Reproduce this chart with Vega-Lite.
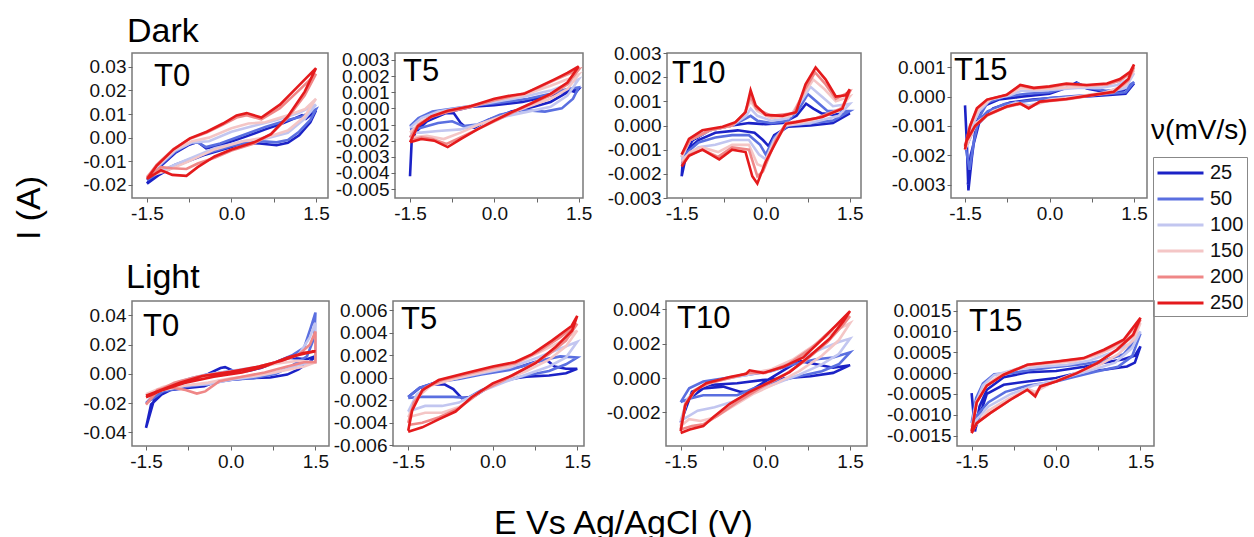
{
"$schema":"https://vega.github.io/schema/vega-lite/v6.json",
"background":"white",
"padding":{"left":12,"top":15,"right":6,"bottom":0},
"autosize":{"type":"pad"},
"datasets":{
"D0":[
{"r":25,"x":-1.5,"y":-0.0195},{"r":25,"x":-1.3,"y":-0.013},{"r":25,"x":-1.0,"y":-0.0065},{"r":25,"x":-0.75,"y":-0.003},{"r":25,"x":-0.6,"y":-0.0018},{"r":25,"x":-0.45,"y":-0.0045},{"r":25,"x":-0.2,"y":-0.0032},{"r":25,"x":0.2,"y":0.0},{"r":25,"x":0.6,"y":0.0035},{"r":25,"x":0.9,"y":0.006},{"r":25,"x":1.15,"y":0.0085},{"r":25,"x":1.25,"y":0.0095},{"r":25,"x":1.32,"y":0.008},{"r":25,"x":1.5,"y":0.0115},{"r":25,"x":1.4,"y":0.0065},{"r":25,"x":1.2,"y":0.001},{"r":25,"x":1.0,"y":-0.0022},{"r":25,"x":0.8,"y":-0.0032},{"r":25,"x":0.5,"y":-0.0025},{"r":25,"x":0.2,"y":-0.0022},{"r":25,"x":0.0,"y":-0.004},{"r":25,"x":-0.5,"y":-0.0075},{"r":25,"x":-1.0,"y":-0.012},{"r":25,"x":-1.3,"y":-0.016},{"r":25,"x":-1.5,"y":-0.0195},
{"r":50,"x":-1.5,"y":-0.018},{"r":50,"x":-1.3,"y":-0.0125},{"r":50,"x":-1.0,"y":-0.006},{"r":50,"x":-0.75,"y":-0.0025},{"r":50,"x":-0.6,"y":-0.002},{"r":50,"x":-0.45,"y":-0.004},{"r":50,"x":-0.2,"y":-0.0025},{"r":50,"x":0.2,"y":0.001},{"r":50,"x":0.6,"y":0.0045},{"r":50,"x":1.0,"y":0.0075},{"r":50,"x":1.25,"y":0.009},{"r":50,"x":1.5,"y":0.012},{"r":50,"x":1.4,"y":0.0075},{"r":50,"x":1.2,"y":0.0025},{"r":50,"x":1.0,"y":-0.001},{"r":50,"x":0.8,"y":-0.002},{"r":50,"x":0.5,"y":-0.0015},{"r":50,"x":0.0,"y":-0.0035},{"r":50,"x":-0.5,"y":-0.007},{"r":50,"x":-1.0,"y":-0.0115},{"r":50,"x":-1.3,"y":-0.015},{"r":50,"x":-1.5,"y":-0.018},
{"r":100,"x":-1.5,"y":-0.017},{"r":100,"x":-1.3,"y":-0.012},{"r":100,"x":-1.0,"y":-0.0055},{"r":100,"x":-0.7,"y":-0.002},{"r":100,"x":-0.4,"y":-0.0015},{"r":100,"x":0.0,"y":0.0025},{"r":100,"x":0.4,"y":0.005},{"r":100,"x":0.8,"y":0.0075},{"r":100,"x":1.2,"y":0.0105},{"r":100,"x":1.5,"y":0.014},{"r":100,"x":1.3,"y":0.008},{"r":100,"x":1.0,"y":0.002},{"r":100,"x":0.6,"y":-0.0005},{"r":100,"x":0.2,"y":-0.0015},{"r":100,"x":-0.3,"y":-0.0045},{"r":100,"x":-0.8,"y":-0.0095},{"r":100,"x":-1.2,"y":-0.0135},{"r":100,"x":-1.5,"y":-0.017},
{"r":150,"x":-1.5,"y":-0.0165},{"r":150,"x":-1.3,"y":-0.0115},{"r":150,"x":-1.0,"y":-0.005},{"r":150,"x":-0.7,"y":-0.0015},{"r":150,"x":-0.4,"y":0.0},{"r":150,"x":0.0,"y":0.004},{"r":150,"x":0.3,"y":0.006},{"r":150,"x":0.6,"y":0.0065},{"r":150,"x":1.0,"y":0.0095},{"r":150,"x":1.3,"y":0.012},{"r":150,"x":1.5,"y":0.0165},{"r":150,"x":1.3,"y":0.009},{"r":150,"x":1.0,"y":0.003},{"r":150,"x":0.6,"y":0.0},{"r":150,"x":0.2,"y":-0.0015},{"r":150,"x":-0.3,"y":-0.005},{"r":150,"x":-0.8,"y":-0.0105},{"r":150,"x":-1.2,"y":-0.0145},{"r":150,"x":-1.5,"y":-0.0165},
{"r":200,"x":-1.5,"y":-0.017},{"r":200,"x":-1.33,"y":-0.0115},{"r":200,"x":-1.03,"y":-0.0048},{"r":200,"x":-0.74,"y":-0.0005},{"r":200,"x":-0.44,"y":0.0022},{"r":200,"x":-0.15,"y":0.0055},{"r":200,"x":0.09,"y":0.0085},{"r":200,"x":0.27,"y":0.0095},{"r":200,"x":0.53,"y":0.0078},{"r":200,"x":0.86,"y":0.0125},{"r":200,"x":1.15,"y":0.019},{"r":200,"x":1.5,"y":0.027},{"r":200,"x":1.3,"y":0.018},{"r":200,"x":1.0,"y":0.0085},{"r":200,"x":0.7,"y":0.0015},{"r":200,"x":0.4,"y":-0.0025},{"r":200,"x":0.0,"y":-0.0055},{"r":200,"x":-0.3,"y":-0.0085},{"r":200,"x":-0.6,"y":-0.011},{"r":200,"x":-0.8,"y":-0.0133},{"r":200,"x":-1.05,"y":-0.013},{"r":200,"x":-1.25,"y":-0.0125},{"r":200,"x":-1.5,"y":-0.017},
{"r":250,"x":-1.5,"y":-0.0175},{"r":250,"x":-1.33,"y":-0.012},{"r":250,"x":-1.03,"y":-0.005},{"r":250,"x":-0.74,"y":-0.0003},{"r":250,"x":-0.44,"y":0.0025},{"r":250,"x":-0.15,"y":0.006},{"r":250,"x":0.09,"y":0.0094},{"r":250,"x":0.27,"y":0.0104},{"r":250,"x":0.53,"y":0.0085},{"r":250,"x":0.86,"y":0.014},{"r":250,"x":1.15,"y":0.021},{"r":250,"x":1.5,"y":0.0295},{"r":250,"x":1.3,"y":0.0195},{"r":250,"x":1.0,"y":0.009},{"r":250,"x":0.7,"y":0.0015},{"r":250,"x":0.4,"y":-0.002},{"r":250,"x":0.0,"y":-0.005},{"r":250,"x":-0.3,"y":-0.008},{"r":250,"x":-0.6,"y":-0.0125},{"r":250,"x":-0.8,"y":-0.0162},{"r":250,"x":-1.05,"y":-0.0158},{"r":250,"x":-1.25,"y":-0.0138},{"r":250,"x":-1.5,"y":-0.0175}
],
"D5":[
{"r":25,"x":-1.5,"y":-0.0042},{"r":25,"x":-1.47,"y":-0.002},{"r":25,"x":-1.35,"y":-0.0011},{"r":25,"x":-1.15,"y":-0.0005},{"r":25,"x":-0.9,"y":-0.0003},{"r":25,"x":-0.72,"y":-0.0003},{"r":25,"x":-0.6,"y":-0.0009},{"r":25,"x":-0.5,"y":-0.0012},{"r":25,"x":-0.35,"y":-0.0012},{"r":25,"x":-0.1,"y":-0.0007},{"r":25,"x":0.3,"y":-0.0002},{"r":25,"x":0.7,"y":0.0001},{"r":25,"x":1.0,"y":0.0004},{"r":25,"x":1.25,"y":0.0009},{"r":25,"x":1.35,"y":0.0011},{"r":25,"x":1.45,"y":0.001},{"r":25,"x":1.5,"y":0.0012},{"r":25,"x":1.3,"y":0.0011},{"r":25,"x":1.0,"y":0.0008},{"r":25,"x":0.5,"y":0.0004},{"r":25,"x":0.0,"y":0.0002},{"r":25,"x":-0.4,"y":0.0001},{"r":25,"x":-0.8,"y":-0.0002},{"r":25,"x":-1.2,"y":-0.0008},{"r":25,"x":-1.5,"y":-0.0018},
{"r":50,"x":-1.5,"y":-0.0011},{"r":50,"x":-1.35,"y":-0.0006},{"r":50,"x":-1.1,"y":-0.0002},{"r":50,"x":-0.7,"y":0.0},{"r":50,"x":-0.3,"y":0.0002},{"r":50,"x":0.2,"y":0.0004},{"r":50,"x":0.6,"y":0.0006},{"r":50,"x":1.0,"y":0.0009},{"r":50,"x":1.3,"y":0.0012},{"r":50,"x":1.5,"y":0.0013},{"r":50,"x":1.4,"y":0.0006},{"r":50,"x":1.2,"y":0.0},{"r":50,"x":0.9,"y":-0.0002},{"r":50,"x":0.5,"y":-0.0001},{"r":50,"x":0.1,"y":-0.0004},{"r":50,"x":-0.3,"y":-0.001},{"r":50,"x":-0.55,"y":-0.0011},{"r":50,"x":-0.75,"y":-0.0008},{"r":50,"x":-1.0,"y":-0.0009},{"r":50,"x":-1.3,"y":-0.0012},{"r":50,"x":-1.5,"y":-0.0013},
{"r":100,"x":-1.5,"y":-0.0012},{"r":100,"x":-1.3,"y":-0.0006},{"r":100,"x":-1.0,"y":-0.0002},{"r":100,"x":-0.5,"y":0.0001},{"r":100,"x":0.0,"y":0.0004},{"r":100,"x":0.5,"y":0.0007},{"r":100,"x":1.0,"y":0.0011},{"r":100,"x":1.3,"y":0.0015},{"r":100,"x":1.5,"y":0.0018},{"r":100,"x":1.3,"y":0.0008},{"r":100,"x":1.0,"y":0.0001},{"r":100,"x":0.6,"y":-0.0002},{"r":100,"x":0.2,"y":-0.0005},{"r":100,"x":-0.2,"y":-0.0009},{"r":100,"x":-0.6,"y":-0.0013},{"r":100,"x":-1.0,"y":-0.0014},{"r":100,"x":-1.3,"y":-0.0015},{"r":100,"x":-1.5,"y":-0.0015},
{"r":150,"x":-1.5,"y":-0.0015},{"r":150,"x":-1.3,"y":-0.0008},{"r":150,"x":-1.0,"y":-0.0003},{"r":150,"x":-0.5,"y":0.0001},{"r":150,"x":0.0,"y":0.0005},{"r":150,"x":0.5,"y":0.0008},{"r":150,"x":1.0,"y":0.0014},{"r":150,"x":1.3,"y":0.0018},{"r":150,"x":1.5,"y":0.0021},{"r":150,"x":1.3,"y":0.0012},{"r":150,"x":1.0,"y":0.0006},{"r":150,"x":0.6,"y":0.0001},{"r":150,"x":0.2,"y":-0.0004},{"r":150,"x":-0.2,"y":-0.0009},{"r":150,"x":-0.6,"y":-0.0015},{"r":150,"x":-0.9,"y":-0.0019},{"r":150,"x":-1.2,"y":-0.0017},{"r":150,"x":-1.5,"y":-0.0018},
{"r":200,"x":-1.5,"y":-0.0018},{"r":200,"x":-1.35,"y":-0.001},{"r":200,"x":-1.1,"y":-0.0005},{"r":200,"x":-0.8,"y":-0.0002},{"r":200,"x":-0.4,"y":0.0001},{"r":200,"x":0.0,"y":0.0005},{"r":200,"x":0.5,"y":0.0009},{"r":200,"x":0.8,"y":0.0013},{"r":200,"x":1.1,"y":0.0018},{"r":200,"x":1.5,"y":0.0024},{"r":200,"x":1.3,"y":0.0015},{"r":200,"x":1.0,"y":0.0008},{"r":200,"x":0.6,"y":0.0002},{"r":200,"x":0.3,"y":-0.0003},{"r":200,"x":0.0,"y":-0.0008},{"r":200,"x":-0.3,"y":-0.0013},{"r":200,"x":-0.6,"y":-0.0018},{"r":200,"x":-0.85,"y":-0.0022},{"r":200,"x":-1.1,"y":-0.0019},{"r":200,"x":-1.3,"y":-0.0018},{"r":200,"x":-1.5,"y":-0.002},
{"r":250,"x":-1.5,"y":-0.0021},{"r":250,"x":-1.36,"y":-0.0011},{"r":250,"x":-1.12,"y":-0.0005},{"r":250,"x":-0.83,"y":-0.00015},{"r":250,"x":-0.41,"y":0.00015},{"r":250,"x":0.0,"y":0.0006},{"r":250,"x":0.3,"y":0.0008},{"r":250,"x":0.53,"y":0.0009},{"r":250,"x":0.77,"y":0.0013},{"r":250,"x":1.07,"y":0.0018},{"r":250,"x":1.3,"y":0.0022},{"r":250,"x":1.5,"y":0.0026},{"r":250,"x":1.3,"y":0.0016},{"r":250,"x":1.0,"y":0.0009},{"r":250,"x":0.65,"y":0.0003},{"r":250,"x":0.3,"y":-0.00025},{"r":250,"x":0.0,"y":-0.00076},{"r":250,"x":-0.3,"y":-0.0013},{"r":250,"x":-0.6,"y":-0.0019},{"r":250,"x":-0.83,"y":-0.0024},{"r":250,"x":-1.07,"y":-0.002},{"r":250,"x":-1.3,"y":-0.0019},{"r":250,"x":-1.5,"y":-0.0021}
],
"D10":[
{"r":25,"x":-1.5,"y":-0.0021},{"r":25,"x":-1.47,"y":-0.0012},{"r":25,"x":-1.3,"y":-0.0006},{"r":25,"x":-1.0,"y":-0.0002},{"r":25,"x":-0.6,"y":0.0},{"r":25,"x":-0.3,"y":0.0001},{"r":25,"x":0.0,"y":0.00005},{"r":25,"x":0.3,"y":0.0001},{"r":25,"x":0.55,"y":0.0004},{"r":25,"x":0.72,"y":0.0009},{"r":25,"x":0.85,"y":0.0007},{"r":25,"x":1.0,"y":0.0005},{"r":25,"x":1.2,"y":0.00045},{"r":25,"x":1.5,"y":0.0005},{"r":25,"x":1.2,"y":0.0001},{"r":25,"x":0.8,"y":0.0},{"r":25,"x":0.4,"y":-0.00005},{"r":25,"x":0.15,"y":-0.0004},{"r":25,"x":0.05,"y":-0.00085},{"r":25,"x":-0.05,"y":-0.0006},{"r":25,"x":-0.2,"y":-0.0003},{"r":25,"x":-0.5,"y":-0.0002},{"r":25,"x":-0.9,"y":-0.0003},{"r":25,"x":-1.2,"y":-0.0006},{"r":25,"x":-1.4,"y":-0.001},{"r":25,"x":-1.5,"y":-0.0021},
{"r":50,"x":-1.5,"y":-0.0013},{"r":50,"x":-1.35,"y":-0.0006},{"r":50,"x":-1.0,"y":-0.0002},{"r":50,"x":-0.6,"y":0.0},{"r":50,"x":-0.35,"y":0.0003},{"r":50,"x":-0.27,"y":0.0004},{"r":50,"x":-0.15,"y":0.0002},{"r":50,"x":0.1,"y":0.0001},{"r":50,"x":0.4,"y":0.0002},{"r":50,"x":0.6,"y":0.0007},{"r":50,"x":0.75,"y":0.0013},{"r":50,"x":0.9,"y":0.001},{"r":50,"x":1.1,"y":0.0006},{"r":50,"x":1.5,"y":0.0006},{"r":50,"x":1.2,"y":0.0002},{"r":50,"x":0.8,"y":0.0001},{"r":50,"x":0.4,"y":0.0},{"r":50,"x":0.15,"y":-0.0005},{"r":50,"x":0.0,"y":-0.0012},{"r":50,"x":-0.1,"y":-0.0008},{"r":50,"x":-0.3,"y":-0.0004},{"r":50,"x":-0.6,"y":-0.0004},{"r":50,"x":-0.9,"y":-0.0005},{"r":50,"x":-1.2,"y":-0.0007},{"r":50,"x":-1.5,"y":-0.0013},
{"r":100,"x":-1.5,"y":-0.0013},{"r":100,"x":-1.35,"y":-0.0006},{"r":100,"x":-1.0,"y":-0.0002},{"r":100,"x":-0.6,"y":0.0},{"r":100,"x":-0.35,"y":0.0004},{"r":100,"x":-0.27,"y":0.0007},{"r":100,"x":-0.15,"y":0.0004},{"r":100,"x":0.1,"y":0.0002},{"r":100,"x":0.4,"y":0.0003},{"r":100,"x":0.6,"y":0.0009},{"r":100,"x":0.8,"y":0.0016},{"r":100,"x":1.0,"y":0.0012},{"r":100,"x":1.2,"y":0.0008},{"r":100,"x":1.5,"y":0.0009},{"r":100,"x":1.3,"y":0.0004},{"r":100,"x":0.8,"y":0.0001},{"r":100,"x":0.35,"y":0.0},{"r":100,"x":0.15,"y":-0.0006},{"r":100,"x":0.0,"y":-0.0014},{"r":100,"x":-0.12,"y":-0.0012},{"r":100,"x":-0.3,"y":-0.0006},{"r":100,"x":-0.6,"y":-0.0006},{"r":100,"x":-0.9,"y":-0.0008},{"r":100,"x":-1.2,"y":-0.0009},{"r":100,"x":-1.5,"y":-0.0014},
{"r":150,"x":-1.5,"y":-0.0013},{"r":150,"x":-1.35,"y":-0.0006},{"r":150,"x":-1.0,"y":-0.0002},{"r":150,"x":-0.6,"y":0.0},{"r":150,"x":-0.38,"y":0.0005},{"r":150,"x":-0.27,"y":0.001},{"r":150,"x":-0.15,"y":0.0006},{"r":150,"x":0.1,"y":0.0003},{"r":150,"x":0.45,"y":0.0004},{"r":150,"x":0.65,"y":0.0012},{"r":150,"x":0.85,"y":0.0019},{"r":150,"x":1.05,"y":0.0015},{"r":150,"x":1.25,"y":0.001},{"r":150,"x":1.5,"y":0.0012},{"r":150,"x":1.3,"y":0.0006},{"r":150,"x":0.8,"y":0.0002},{"r":150,"x":0.35,"y":0.0},{"r":150,"x":0.15,"y":-0.0007},{"r":150,"x":-0.05,"y":-0.0017},{"r":150,"x":-0.15,"y":-0.0016},{"r":150,"x":-0.3,"y":-0.0008},{"r":150,"x":-0.6,"y":-0.0008},{"r":150,"x":-0.85,"y":-0.0011},{"r":150,"x":-1.15,"y":-0.0009},{"r":150,"x":-1.35,"y":-0.0011},{"r":150,"x":-1.5,"y":-0.0015},
{"r":200,"x":-1.5,"y":-0.0012},{"r":200,"x":-1.35,"y":-0.0006},{"r":200,"x":-1.0,"y":-0.0002},{"r":200,"x":-0.6,"y":0.0},{"r":200,"x":-0.38,"y":0.0005},{"r":200,"x":-0.27,"y":0.0012},{"r":200,"x":-0.17,"y":0.0007},{"r":200,"x":0.1,"y":0.0004},{"r":200,"x":0.5,"y":0.0005},{"r":200,"x":0.7,"y":0.0015},{"r":200,"x":0.88,"y":0.0022},{"r":200,"x":1.07,"y":0.0017},{"r":200,"x":1.25,"y":0.0011},{"r":200,"x":1.5,"y":0.0014},{"r":200,"x":1.35,"y":0.0007},{"r":200,"x":0.9,"y":0.0003},{"r":200,"x":0.36,"y":0.0001},{"r":200,"x":0.18,"y":-0.0006},{"r":200,"x":-0.05,"y":-0.0019},{"r":200,"x":-0.15,"y":-0.0021},{"r":200,"x":-0.3,"y":-0.001},{"r":200,"x":-0.6,"y":-0.0009},{"r":200,"x":-0.85,"y":-0.0013},{"r":200,"x":-1.13,"y":-0.001},{"r":200,"x":-1.35,"y":-0.0012},{"r":200,"x":-1.5,"y":-0.0016},
{"r":250,"x":-1.5,"y":-0.0012},{"r":250,"x":-1.37,"y":-0.00055},{"r":250,"x":-1.13,"y":-0.0002},{"r":250,"x":-0.77,"y":-0.00005},{"r":250,"x":-0.54,"y":0.00014},{"r":250,"x":-0.36,"y":0.00055},{"r":250,"x":-0.27,"y":0.00146},{"r":250,"x":-0.18,"y":0.00083},{"r":250,"x":0.0,"y":0.00044},{"r":250,"x":0.3,"y":0.0004},{"r":250,"x":0.54,"y":0.00055},{"r":250,"x":0.71,"y":0.0017},{"r":250,"x":0.89,"y":0.0024},{"r":250,"x":1.07,"y":0.0019},{"r":250,"x":1.25,"y":0.0012},{"r":250,"x":1.43,"y":0.00125},{"r":250,"x":1.5,"y":0.0015},{"r":250,"x":1.37,"y":0.0007},{"r":250,"x":1.01,"y":0.00035},{"r":250,"x":0.54,"y":0.00014},{"r":250,"x":0.36,"y":0.00007},{"r":250,"x":0.18,"y":-0.0007},{"r":250,"x":0.0,"y":-0.0015},{"r":250,"x":-0.15,"y":-0.0024},{"r":250,"x":-0.24,"y":-0.0021},{"r":250,"x":-0.36,"y":-0.0011},{"r":250,"x":-0.6,"y":-0.001},{"r":250,"x":-0.83,"y":-0.0014},{"r":250,"x":-1.13,"y":-0.001},{"r":250,"x":-1.37,"y":-0.00125},{"r":250,"x":-1.5,"y":-0.0017}
],
"D15":[
{"r":25,"x":-1.5,"y":-0.0003},{"r":25,"x":-1.47,"y":-0.0015},{"r":25,"x":-1.44,"y":-0.0032},{"r":25,"x":-1.38,"y":-0.0021},{"r":25,"x":-1.3,"y":-0.0009},{"r":25,"x":-1.15,"y":-0.0003},{"r":25,"x":-0.9,"y":-0.0001},{"r":25,"x":-0.5,"y":0.0},{"r":25,"x":0.0,"y":0.0001},{"r":25,"x":0.3,"y":0.0003},{"r":25,"x":0.48,"y":0.00048},{"r":25,"x":0.66,"y":0.00028},{"r":25,"x":1.0,"y":0.00015},{"r":25,"x":1.3,"y":0.0002},{"r":25,"x":1.5,"y":0.00045},{"r":25,"x":1.35,"y":0.0001},{"r":25,"x":1.0,"y":0.00005},{"r":25,"x":0.6,"y":0.0},{"r":25,"x":0.2,"y":-0.00002},{"r":25,"x":-0.3,"y":-0.0001},{"r":25,"x":-0.7,"y":-0.0002},{"r":25,"x":-1.0,"y":-0.0004},{"r":25,"x":-1.25,"y":-0.0009},{"r":25,"x":-1.4,"y":-0.002},{"r":25,"x":-1.45,"y":-0.003},
{"r":50,"x":-1.5,"y":-0.0016},{"r":50,"x":-1.42,"y":-0.0025},{"r":50,"x":-1.35,"y":-0.0016},{"r":50,"x":-1.25,"y":-0.0007},{"r":50,"x":-1.1,"y":-0.0002},{"r":50,"x":-0.8,"y":0.0},{"r":50,"x":-0.4,"y":0.0001},{"r":50,"x":0.0,"y":0.00015},{"r":50,"x":0.3,"y":0.0003},{"r":50,"x":0.5,"y":0.00045},{"r":50,"x":0.7,"y":0.0003},{"r":50,"x":1.0,"y":0.0002},{"r":50,"x":1.3,"y":0.00025},{"r":50,"x":1.5,"y":0.0005},{"r":50,"x":1.35,"y":0.00015},{"r":50,"x":1.0,"y":0.00008},{"r":50,"x":0.5,"y":0.00003},{"r":50,"x":0.0,"y":-0.00005},{"r":50,"x":-0.4,"y":-0.00015},{"r":50,"x":-0.8,"y":-0.00025},{"r":50,"x":-1.1,"y":-0.0005},{"r":50,"x":-1.3,"y":-0.0009},{"r":50,"x":-1.45,"y":-0.0016},{"r":50,"x":-1.5,"y":-0.0016},
{"r":100,"x":-1.5,"y":-0.0018},{"r":100,"x":-1.4,"y":-0.0011},{"r":100,"x":-1.25,"y":-0.0005},{"r":100,"x":-1.05,"y":-0.0001},{"r":100,"x":-0.7,"y":0.00005},{"r":100,"x":-0.5,"y":0.0002},{"r":100,"x":-0.2,"y":0.0002},{"r":100,"x":0.2,"y":0.00025},{"r":100,"x":0.5,"y":0.0003},{"r":100,"x":0.9,"y":0.0003},{"r":100,"x":1.2,"y":0.0004},{"r":100,"x":1.4,"y":0.0006},{"r":100,"x":1.5,"y":0.0008},{"r":100,"x":1.35,"y":0.0003},{"r":100,"x":1.0,"y":0.00012},{"r":100,"x":0.5,"y":0.0},{"r":100,"x":0.0,"y":-0.0001},{"r":100,"x":-0.35,"y":-0.0003},{"r":100,"x":-0.6,"y":-0.0002},{"r":100,"x":-1.0,"y":-0.0005},{"r":100,"x":-1.3,"y":-0.0009},{"r":100,"x":-1.5,"y":-0.0018},
{"r":150,"x":-1.5,"y":-0.0018},{"r":150,"x":-1.4,"y":-0.001},{"r":150,"x":-1.25,"y":-0.0004},{"r":150,"x":-1.05,"y":-0.0001},{"r":150,"x":-0.7,"y":0.0001},{"r":150,"x":-0.5,"y":0.0003},{"r":150,"x":-0.25,"y":0.00025},{"r":150,"x":0.2,"y":0.0003},{"r":150,"x":0.6,"y":0.00035},{"r":150,"x":1.0,"y":0.0004},{"r":150,"x":1.25,"y":0.00055},{"r":150,"x":1.5,"y":0.0009},{"r":150,"x":1.35,"y":0.0004},{"r":150,"x":1.0,"y":0.00015},{"r":150,"x":0.5,"y":0.0},{"r":150,"x":0.0,"y":-0.00012},{"r":150,"x":-0.37,"y":-0.00035},{"r":150,"x":-0.55,"y":-0.00022},{"r":150,"x":-1.0,"y":-0.0005},{"r":150,"x":-1.3,"y":-0.0009},{"r":150,"x":-1.5,"y":-0.0018},
{"r":200,"x":-1.5,"y":-0.0017},{"r":200,"x":-1.41,"y":-0.001},{"r":200,"x":-1.28,"y":-0.0004},{"r":200,"x":-1.1,"y":-0.0001},{"r":200,"x":-0.76,"y":0.00006},{"r":200,"x":-0.52,"y":0.00038},{"r":200,"x":-0.28,"y":0.00028},{"r":200,"x":0.0,"y":0.00033},{"r":200,"x":0.3,"y":0.00042},{"r":200,"x":0.66,"y":0.00038},{"r":200,"x":1.02,"y":0.00042},{"r":200,"x":1.25,"y":0.00055},{"r":200,"x":1.43,"y":0.0008},{"r":200,"x":1.5,"y":0.001},{"r":200,"x":1.4,"y":0.00055},{"r":200,"x":1.14,"y":0.00015},{"r":200,"x":0.78,"y":0.00005},{"r":200,"x":0.3,"y":-0.0001},{"r":200,"x":-0.17,"y":-0.00018},{"r":200,"x":-0.37,"y":-0.00038},{"r":200,"x":-0.52,"y":-0.00025},{"r":200,"x":-0.76,"y":-0.00035},{"r":200,"x":-1.11,"y":-0.00065},{"r":200,"x":-1.32,"y":-0.001},{"r":200,"x":-1.47,"y":-0.0015},{"r":200,"x":-1.5,"y":-0.0018},
{"r":250,"x":-1.5,"y":-0.0017},{"r":250,"x":-1.41,"y":-0.001},{"r":250,"x":-1.29,"y":-0.0004},{"r":250,"x":-1.11,"y":-0.0001},{"r":250,"x":-0.76,"y":0.00006},{"r":250,"x":-0.52,"y":0.0004},{"r":250,"x":-0.28,"y":0.0003},{"r":250,"x":0.0,"y":0.00035},{"r":250,"x":0.3,"y":0.00045},{"r":250,"x":0.66,"y":0.0004},{"r":250,"x":1.02,"y":0.00045},{"r":250,"x":1.25,"y":0.0006},{"r":250,"x":1.43,"y":0.00085},{"r":250,"x":1.5,"y":0.0011},{"r":250,"x":1.4,"y":0.0006},{"r":250,"x":1.14,"y":0.00017},{"r":250,"x":0.78,"y":0.00006},{"r":250,"x":0.3,"y":-0.00008},{"r":250,"x":-0.17,"y":-0.00017},{"r":250,"x":-0.37,"y":-0.0004},{"r":250,"x":-0.52,"y":-0.00023},{"r":250,"x":-0.76,"y":-0.00034},{"r":250,"x":-1.11,"y":-0.00063},{"r":250,"x":-1.32,"y":-0.001},{"r":250,"x":-1.47,"y":-0.0015},{"r":250,"x":-1.5,"y":-0.0018}
],
"L0":[
{"r":25,"x":-1.5,"y":-0.037},{"r":25,"x":-1.41,"y":-0.021},{"r":25,"x":-1.23,"y":-0.0143},{"r":25,"x":-1.0,"y":-0.009},{"r":25,"x":-0.7,"y":-0.004},{"r":25,"x":-0.4,"y":0.0},{"r":25,"x":-0.18,"y":0.004},{"r":25,"x":-0.1,"y":0.0046},{"r":25,"x":0.06,"y":0.0018},{"r":25,"x":0.3,"y":0.002},{"r":25,"x":0.53,"y":0.004},{"r":25,"x":0.8,"y":0.008},{"r":25,"x":1.0,"y":0.011},{"r":25,"x":1.2,"y":0.0105},{"r":25,"x":1.35,"y":0.01},{"r":25,"x":1.5,"y":0.012},{"r":25,"x":1.42,"y":0.009},{"r":25,"x":1.2,"y":0.003},{"r":25,"x":1.0,"y":-0.0005},{"r":25,"x":0.7,"y":-0.0025},{"r":25,"x":0.3,"y":-0.003},{"r":25,"x":-0.24,"y":-0.005},{"r":25,"x":-0.47,"y":-0.0085},{"r":25,"x":-0.77,"y":-0.0097},{"r":25,"x":-1.06,"y":-0.011},{"r":25,"x":-1.35,"y":-0.0166},{"r":25,"x":-1.5,"y":-0.037},
{"r":50,"x":-1.5,"y":-0.02},{"r":50,"x":-1.3,"y":-0.012},{"r":50,"x":-1.0,"y":-0.007},{"r":50,"x":-0.7,"y":-0.003},{"r":50,"x":-0.3,"y":0.0},{"r":50,"x":0.0,"y":0.002},{"r":50,"x":0.4,"y":0.003},{"r":50,"x":0.8,"y":0.008},{"r":50,"x":1.1,"y":0.013},{"r":50,"x":1.3,"y":0.018},{"r":50,"x":1.42,"y":0.032},{"r":50,"x":1.5,"y":0.042},{"r":50,"x":1.48,"y":0.025},{"r":50,"x":1.35,"y":0.012},{"r":50,"x":1.1,"y":0.006},{"r":50,"x":0.8,"y":0.0},{"r":50,"x":0.4,"y":-0.003},{"r":50,"x":0.0,"y":-0.004},{"r":50,"x":-0.4,"y":-0.007},{"r":50,"x":-0.8,"y":-0.009},{"r":50,"x":-1.2,"y":-0.012},{"r":50,"x":-1.5,"y":-0.02},
{"r":100,"x":-1.5,"y":-0.015},{"r":100,"x":-1.2,"y":-0.01},{"r":100,"x":-0.9,"y":-0.005},{"r":100,"x":-0.5,"y":-0.001},{"r":100,"x":0.0,"y":0.002},{"r":100,"x":0.5,"y":0.005},{"r":100,"x":0.9,"y":0.009},{"r":100,"x":1.2,"y":0.013},{"r":100,"x":1.4,"y":0.025},{"r":100,"x":1.5,"y":0.035},{"r":100,"x":1.5,"y":0.008},{"r":100,"x":1.2,"y":0.006},{"r":100,"x":0.8,"y":0.001},{"r":100,"x":0.4,"y":-0.002},{"r":100,"x":0.0,"y":-0.004},{"r":100,"x":-0.4,"y":-0.007},{"r":100,"x":-0.8,"y":-0.008},{"r":100,"x":-1.2,"y":-0.011},{"r":100,"x":-1.5,"y":-0.015},
{"r":150,"x":-1.5,"y":-0.014},{"r":150,"x":-1.2,"y":-0.009},{"r":150,"x":-0.9,"y":-0.006},{"r":150,"x":-0.6,"y":-0.004},{"r":150,"x":-0.2,"y":0.0},{"r":150,"x":0.3,"y":0.003},{"r":150,"x":0.8,"y":0.007},{"r":150,"x":1.2,"y":0.009},{"r":150,"x":1.5,"y":0.008},{"r":150,"x":1.3,"y":0.005},{"r":150,"x":0.9,"y":0.002},{"r":150,"x":0.5,"y":-0.001},{"r":150,"x":0.0,"y":-0.003},{"r":150,"x":-0.4,"y":-0.006},{"r":150,"x":-0.8,"y":-0.008},{"r":150,"x":-1.2,"y":-0.011},{"r":150,"x":-1.5,"y":-0.014},
{"r":200,"x":-1.5,"y":-0.021},{"r":200,"x":-1.3,"y":-0.012},{"r":200,"x":-1.0,"y":-0.006},{"r":200,"x":-0.6,"y":-0.002},{"r":200,"x":-0.2,"y":0.0005},{"r":200,"x":0.3,"y":0.003},{"r":200,"x":0.8,"y":0.008},{"r":200,"x":1.2,"y":0.013},{"r":200,"x":1.4,"y":0.02},{"r":200,"x":1.5,"y":0.029},{"r":200,"x":1.5,"y":0.008},{"r":200,"x":1.3,"y":0.008},{"r":200,"x":1.0,"y":0.005},{"r":200,"x":0.6,"y":0.001},{"r":200,"x":0.2,"y":-0.002},{"r":200,"x":-0.2,"y":-0.005},{"r":200,"x":-0.45,"y":-0.012},{"r":200,"x":-0.6,"y":-0.0135},{"r":200,"x":-0.8,"y":-0.011},{"r":200,"x":-1.1,"y":-0.009},{"r":200,"x":-1.3,"y":-0.011},{"r":200,"x":-1.5,"y":-0.021},
{"r":250,"x":-1.5,"y":-0.015},{"r":250,"x":-1.2,"y":-0.0105},{"r":250,"x":-0.9,"y":-0.006},{"r":250,"x":-0.5,"y":-0.0015},{"r":250,"x":0.0,"y":0.0015},{"r":250,"x":0.5,"y":0.005},{"r":250,"x":0.9,"y":0.009},{"r":250,"x":1.2,"y":0.013},{"r":250,"x":1.5,"y":0.0155},{"r":250,"x":1.3,"y":0.0145},{"r":250,"x":1.0,"y":0.011},{"r":250,"x":0.6,"y":0.005},{"r":250,"x":0.2,"y":0.001},{"r":250,"x":-0.3,"y":-0.002},{"r":250,"x":-0.8,"y":-0.006},{"r":250,"x":-1.2,"y":-0.011},{"r":250,"x":-1.5,"y":-0.016}
],
"L5":[
{"r":25,"x":-1.5,"y":-0.0017},{"r":25,"x":-1.3,"y":-0.0009},{"r":25,"x":-1.0,"y":-0.0004},{"r":25,"x":-0.6,"y":0.0},{"r":25,"x":-0.2,"y":0.0004},{"r":25,"x":0.2,"y":0.0007},{"r":25,"x":0.5,"y":0.001},{"r":25,"x":0.75,"y":0.0014},{"r":25,"x":0.95,"y":0.0016},{"r":25,"x":1.1,"y":0.001},{"r":25,"x":1.3,"y":0.0008},{"r":25,"x":1.5,"y":0.0008},{"r":25,"x":1.3,"y":0.0004},{"r":25,"x":1.0,"y":0.0002},{"r":25,"x":0.6,"y":0.0001},{"r":25,"x":0.3,"y":-0.0001},{"r":25,"x":0.0,"y":-0.0006},{"r":25,"x":-0.35,"y":-0.0017},{"r":25,"x":-0.55,"y":-0.0018},{"r":25,"x":-0.7,"y":-0.001},{"r":25,"x":-0.85,"y":-0.0006},{"r":25,"x":-1.1,"y":-0.0006},{"r":25,"x":-1.3,"y":-0.0009},{"r":25,"x":-1.5,"y":-0.0017},
{"r":50,"x":-1.5,"y":-0.0017},{"r":50,"x":-1.3,"y":-0.0009},{"r":50,"x":-1.0,"y":-0.0004},{"r":50,"x":-0.6,"y":-0.0001},{"r":50,"x":-0.2,"y":0.0003},{"r":50,"x":0.3,"y":0.0007},{"r":50,"x":0.7,"y":0.0013},{"r":50,"x":1.0,"y":0.0017},{"r":50,"x":1.2,"y":0.0019},{"r":50,"x":1.5,"y":0.0018},{"r":50,"x":1.3,"y":0.0012},{"r":50,"x":1.0,"y":0.0006},{"r":50,"x":0.6,"y":0.0002},{"r":50,"x":0.2,"y":-0.0003},{"r":50,"x":-0.2,"y":-0.0011},{"r":50,"x":-0.45,"y":-0.0018},{"r":50,"x":-0.7,"y":-0.0017},{"r":50,"x":-1.0,"y":-0.0017},{"r":50,"x":-1.3,"y":-0.0017},{"r":50,"x":-1.5,"y":-0.0018},
{"r":100,"x":-1.5,"y":-0.003},{"r":100,"x":-1.35,"y":-0.0015},{"r":100,"x":-1.1,"y":-0.0006},{"r":100,"x":-0.7,"y":-0.0001},{"r":100,"x":-0.2,"y":0.0004},{"r":100,"x":0.3,"y":0.0009},{"r":100,"x":0.8,"y":0.0018},{"r":100,"x":1.2,"y":0.0026},{"r":100,"x":1.5,"y":0.0032},{"r":100,"x":1.3,"y":0.0018},{"r":100,"x":1.0,"y":0.001},{"r":100,"x":0.6,"y":0.0003},{"r":100,"x":0.2,"y":-0.0004},{"r":100,"x":-0.2,"y":-0.0012},{"r":100,"x":-0.6,"y":-0.0022},{"r":100,"x":-0.9,"y":-0.0025},{"r":100,"x":-1.2,"y":-0.0025},{"r":100,"x":-1.5,"y":-0.003},
{"r":150,"x":-1.5,"y":-0.0035},{"r":150,"x":-1.35,"y":-0.0018},{"r":150,"x":-1.1,"y":-0.0007},{"r":150,"x":-0.7,"y":-0.0001},{"r":150,"x":-0.2,"y":0.0005},{"r":150,"x":0.3,"y":0.001},{"r":150,"x":0.8,"y":0.0022},{"r":150,"x":1.2,"y":0.0032},{"r":150,"x":1.5,"y":0.0042},{"r":150,"x":1.3,"y":0.0028},{"r":150,"x":1.0,"y":0.0016},{"r":150,"x":0.6,"y":0.0006},{"r":150,"x":0.2,"y":-0.0002},{"r":150,"x":-0.2,"y":-0.0012},{"r":150,"x":-0.6,"y":-0.0026},{"r":150,"x":-0.9,"y":-0.0031},{"r":150,"x":-1.2,"y":-0.0031},{"r":150,"x":-1.5,"y":-0.0035},
{"r":200,"x":-1.5,"y":-0.004},{"r":200,"x":-1.4,"y":-0.0022},{"r":200,"x":-1.2,"y":-0.0009},{"r":200,"x":-0.9,"y":-0.0002},{"r":200,"x":-0.4,"y":0.0004},{"r":200,"x":0.0,"y":0.0009},{"r":200,"x":0.4,"y":0.0013},{"r":200,"x":0.8,"y":0.0023},{"r":200,"x":1.2,"y":0.0036},{"r":200,"x":1.5,"y":0.0048},{"r":200,"x":1.3,"y":0.0033},{"r":200,"x":1.0,"y":0.0021},{"r":200,"x":0.6,"y":0.0009},{"r":200,"x":0.2,"y":-0.0002},{"r":200,"x":-0.2,"y":-0.0012},{"r":200,"x":-0.6,"y":-0.0027},{"r":200,"x":-0.95,"y":-0.0035},{"r":200,"x":-1.25,"y":-0.004},{"r":200,"x":-1.5,"y":-0.0042},
{"r":250,"x":-1.5,"y":-0.0047},{"r":250,"x":-1.43,"y":-0.0029},{"r":250,"x":-1.25,"y":-0.0011},{"r":250,"x":-0.96,"y":-0.0002},{"r":250,"x":-0.49,"y":0.0004},{"r":250,"x":0.0,"y":0.001},{"r":250,"x":0.4,"y":0.0014},{"r":250,"x":0.7,"y":0.0021},{"r":250,"x":1.05,"y":0.0033},{"r":250,"x":1.4,"y":0.0046},{"r":250,"x":1.5,"y":0.0055},{"r":250,"x":1.41,"y":0.0042},{"r":250,"x":1.11,"y":0.0027},{"r":250,"x":0.76,"y":0.0013},{"r":250,"x":0.34,"y":0.0002},{"r":250,"x":0.0,"y":-0.0005},{"r":250,"x":-0.37,"y":-0.0017},{"r":250,"x":-0.66,"y":-0.003},{"r":250,"x":-0.96,"y":-0.0037},{"r":250,"x":-1.25,"y":-0.0044},{"r":250,"x":-1.5,"y":-0.0048}
],
"L10":[
{"r":25,"x":-1.5,"y":-0.0026},{"r":25,"x":-1.35,"y":-0.0012},{"r":25,"x":-1.1,"y":-0.0006},{"r":25,"x":-0.75,"y":-0.0005},{"r":25,"x":-0.45,"y":-0.0008},{"r":25,"x":-0.3,"y":-0.0008},{"r":25,"x":0.0,"y":-0.0002},{"r":25,"x":0.35,"y":0.0005},{"r":25,"x":0.6,"y":0.001},{"r":25,"x":0.9,"y":0.0008},{"r":25,"x":1.2,"y":0.0006},{"r":25,"x":1.5,"y":0.00075},{"r":25,"x":1.2,"y":0.0003},{"r":25,"x":0.8,"y":0.0001},{"r":25,"x":0.4,"y":0.0},{"r":25,"x":0.0,"y":-0.0001},{"r":25,"x":-0.5,"y":-0.0003},{"r":25,"x":-1.0,"y":-0.0004},{"r":25,"x":-1.3,"y":-0.0008},{"r":25,"x":-1.5,"y":-0.0026},
{"r":50,"x":-1.5,"y":-0.0014},{"r":50,"x":-1.35,"y":-0.0006},{"r":50,"x":-1.1,"y":-0.0002},{"r":50,"x":-0.7,"y":0.0},{"r":50,"x":-0.3,"y":0.0002},{"r":50,"x":0.1,"y":0.0004},{"r":50,"x":0.5,"y":0.0008},{"r":50,"x":0.9,"y":0.0011},{"r":50,"x":1.2,"y":0.0012},{"r":50,"x":1.5,"y":0.0015},{"r":50,"x":1.3,"y":0.0008},{"r":50,"x":1.0,"y":0.0004},{"r":50,"x":0.6,"y":0.0001},{"r":50,"x":0.2,"y":-0.0002},{"r":50,"x":-0.2,"y":-0.0006},{"r":50,"x":-0.5,"y":-0.001},{"r":50,"x":-0.8,"y":-0.001},{"r":50,"x":-1.1,"y":-0.001},{"r":50,"x":-1.35,"y":-0.0012},{"r":50,"x":-1.5,"y":-0.0014},
{"r":100,"x":-1.5,"y":-0.0025},{"r":100,"x":-1.38,"y":-0.0012},{"r":100,"x":-1.15,"y":-0.0005},{"r":100,"x":-0.8,"y":-0.0001},{"r":100,"x":-0.3,"y":0.0002},{"r":100,"x":0.2,"y":0.0005},{"r":100,"x":0.6,"y":0.0011},{"r":100,"x":1.0,"y":0.0017},{"r":100,"x":1.3,"y":0.0021},{"r":100,"x":1.5,"y":0.0023},{"r":100,"x":1.3,"y":0.0014},{"r":100,"x":1.0,"y":0.0008},{"r":100,"x":0.6,"y":0.0002},{"r":100,"x":0.2,"y":-0.0003},{"r":100,"x":-0.2,"y":-0.0008},{"r":100,"x":-0.6,"y":-0.0014},{"r":100,"x":-0.9,"y":-0.0017},{"r":100,"x":-1.2,"y":-0.0019},{"r":100,"x":-1.5,"y":-0.0025},
{"r":150,"x":-1.5,"y":-0.0028},{"r":150,"x":-1.4,"y":-0.0014},{"r":150,"x":-1.2,"y":-0.0006},{"r":150,"x":-0.9,"y":-0.0002},{"r":150,"x":-0.4,"y":0.0002},{"r":150,"x":0.1,"y":0.0005},{"r":150,"x":0.5,"y":0.0011},{"r":150,"x":0.9,"y":0.002},{"r":150,"x":1.2,"y":0.0027},{"r":150,"x":1.5,"y":0.0032},{"r":150,"x":1.3,"y":0.0022},{"r":150,"x":1.0,"y":0.0013},{"r":150,"x":0.6,"y":0.0004},{"r":150,"x":0.2,"y":-0.0003},{"r":150,"x":-0.2,"y":-0.0009},{"r":150,"x":-0.6,"y":-0.0017},{"r":150,"x":-0.9,"y":-0.0023},{"r":150,"x":-1.15,"y":-0.0025},{"r":150,"x":-1.35,"y":-0.0024},{"r":150,"x":-1.5,"y":-0.0028},
{"r":200,"x":-1.5,"y":-0.003},{"r":200,"x":-1.42,"y":-0.0015},{"r":200,"x":-1.25,"y":-0.0007},{"r":200,"x":-1.0,"y":-0.0003},{"r":200,"x":-0.5,"y":0.0001},{"r":200,"x":-0.3,"y":0.0003},{"r":200,"x":0.0,"y":0.0003},{"r":200,"x":0.4,"y":0.0008},{"r":200,"x":0.8,"y":0.0017},{"r":200,"x":1.2,"y":0.0029},{"r":200,"x":1.5,"y":0.0036},{"r":200,"x":1.35,"y":0.003},{"r":200,"x":1.1,"y":0.0021},{"r":200,"x":0.7,"y":0.001},{"r":200,"x":0.3,"y":0.0001},{"r":200,"x":-0.1,"y":-0.0006},{"r":200,"x":-0.5,"y":-0.0014},{"r":200,"x":-0.85,"y":-0.0022},{"r":200,"x":-1.1,"y":-0.0027},{"r":200,"x":-1.3,"y":-0.0028},{"r":200,"x":-1.5,"y":-0.003},
{"r":250,"x":-1.5,"y":-0.0031},{"r":250,"x":-1.42,"y":-0.0016},{"r":250,"x":-1.27,"y":-0.0008},{"r":250,"x":-1.05,"y":-0.0003},{"r":250,"x":-0.63,"y":0.00006},{"r":250,"x":-0.34,"y":0.00025},{"r":250,"x":-0.28,"y":0.00045},{"r":250,"x":-0.04,"y":0.0003},{"r":250,"x":0.31,"y":0.00064},{"r":250,"x":0.67,"y":0.0012},{"r":250,"x":1.02,"y":0.0023},{"r":250,"x":1.32,"y":0.0033},{"r":250,"x":1.5,"y":0.0039},{"r":250,"x":1.38,"y":0.0033},{"r":250,"x":1.14,"y":0.0023},{"r":250,"x":0.79,"y":0.0013},{"r":250,"x":0.43,"y":0.00035},{"r":250,"x":0.08,"y":-0.00023},{"r":250,"x":-0.28,"y":-0.0008},{"r":250,"x":-0.63,"y":-0.0015},{"r":250,"x":-0.93,"y":-0.0023},{"r":250,"x":-1.1,"y":-0.0028},{"r":250,"x":-1.34,"y":-0.003},{"r":250,"x":-1.5,"y":-0.0032}
],
"L15":[
{"r":25,"x":-1.5,"y":-0.00048},{"r":25,"x":-1.44,"y":-0.0014},{"r":25,"x":-1.36,"y":-0.0008},{"r":25,"x":-1.23,"y":-0.0004},{"r":25,"x":-0.93,"y":-0.0001},{"r":25,"x":-0.5,"y":0.00002},{"r":25,"x":0.0,"y":0.00005},{"r":25,"x":0.5,"y":0.00015},{"r":25,"x":0.85,"y":0.00025},{"r":25,"x":1.2,"y":0.00033},{"r":25,"x":1.4,"y":0.00042},{"r":25,"x":1.5,"y":0.00064},{"r":25,"x":1.4,"y":0.00025},{"r":25,"x":1.26,"y":0.00016},{"r":25,"x":0.85,"y":0.00008},{"r":25,"x":0.49,"y":0.00004},{"r":25,"x":0.0,"y":-0.00012},{"r":25,"x":-0.51,"y":-0.0002},{"r":25,"x":-0.93,"y":-0.00028},{"r":25,"x":-1.23,"y":-0.0005},{"r":25,"x":-1.44,"y":-0.00136},
{"r":50,"x":-1.5,"y":-0.0012},{"r":50,"x":-1.42,"y":-0.0006},{"r":50,"x":-1.3,"y":-0.00025},{"r":50,"x":-1.1,"y":-0.00003},{"r":50,"x":-0.8,"y":0.0},{"r":50,"x":-0.4,"y":0.00008},{"r":50,"x":0.0,"y":0.00015},{"r":50,"x":0.5,"y":0.00022},{"r":50,"x":0.9,"y":0.00032},{"r":50,"x":1.2,"y":0.00045},{"r":50,"x":1.5,"y":0.00095},{"r":50,"x":1.35,"y":0.0004},{"r":50,"x":1.1,"y":0.00015},{"r":50,"x":0.7,"y":0.00003},{"r":50,"x":0.3,"y":-0.0001},{"r":50,"x":0.0,"y":-0.0002},{"r":50,"x":-0.5,"y":-0.0003},{"r":50,"x":-0.9,"y":-0.00045},{"r":50,"x":-1.2,"y":-0.0007},{"r":50,"x":-1.4,"y":-0.001},{"r":50,"x":-1.5,"y":-0.0012},
{"r":100,"x":-1.5,"y":-0.0013},{"r":100,"x":-1.42,"y":-0.0007},{"r":100,"x":-1.3,"y":-0.0003},{"r":100,"x":-1.1,"y":-0.00005},{"r":100,"x":-0.7,"y":0.0001},{"r":100,"x":-0.3,"y":0.00015},{"r":100,"x":0.2,"y":0.0002},{"r":100,"x":0.6,"y":0.0003},{"r":100,"x":1.0,"y":0.0005},{"r":100,"x":1.3,"y":0.0007},{"r":100,"x":1.5,"y":0.001},{"r":100,"x":1.35,"y":0.0006},{"r":100,"x":1.05,"y":0.00025},{"r":100,"x":0.7,"y":0.0001},{"r":100,"x":0.3,"y":-0.00005},{"r":100,"x":0.0,"y":-0.00018},{"r":100,"x":-0.4,"y":-0.0003},{"r":100,"x":-0.8,"y":-0.0005},{"r":100,"x":-1.2,"y":-0.0008},{"r":100,"x":-1.4,"y":-0.0011},{"r":100,"x":-1.5,"y":-0.0013},
{"r":150,"x":-1.5,"y":-0.0014},{"r":150,"x":-1.42,"y":-0.0007},{"r":150,"x":-1.25,"y":-0.0003},{"r":150,"x":-1.0,"y":-0.00005},{"r":150,"x":-0.6,"y":0.00015},{"r":150,"x":-0.2,"y":0.00022},{"r":150,"x":0.3,"y":0.00028},{"r":150,"x":0.7,"y":0.00042},{"r":150,"x":1.1,"y":0.00065},{"r":150,"x":1.35,"y":0.0009},{"r":150,"x":1.5,"y":0.0012},{"r":150,"x":1.38,"y":0.0008},{"r":150,"x":1.1,"y":0.00045},{"r":150,"x":0.75,"y":0.00018},{"r":150,"x":0.35,"y":0.0},{"r":150,"x":0.0,"y":-0.00018},{"r":150,"x":-0.37,"y":-0.00045},{"r":150,"x":-0.5,"y":-0.00038},{"r":150,"x":-0.85,"y":-0.00062},{"r":150,"x":-1.2,"y":-0.0009},{"r":150,"x":-1.4,"y":-0.0012},{"r":150,"x":-1.5,"y":-0.0014},
{"r":200,"x":-1.5,"y":-0.0014},{"r":200,"x":-1.41,"y":-0.0007},{"r":200,"x":-1.23,"y":-0.0003},{"r":200,"x":-0.93,"y":-0.00004},{"r":200,"x":-0.51,"y":0.0002},{"r":200,"x":0.0,"y":0.00027},{"r":200,"x":0.49,"y":0.00035},{"r":200,"x":0.85,"y":0.00054},{"r":200,"x":1.2,"y":0.00078},{"r":200,"x":1.5,"y":0.00128},{"r":200,"x":1.37,"y":0.0009},{"r":200,"x":1.08,"y":0.00055},{"r":200,"x":0.73,"y":0.00024},{"r":200,"x":0.37,"y":0.0},{"r":200,"x":0.0,"y":-0.0002},{"r":200,"x":-0.28,"y":-0.00032},{"r":200,"x":-0.37,"y":-0.00052},{"r":200,"x":-0.51,"y":-0.0004},{"r":200,"x":-0.81,"y":-0.00064},{"r":200,"x":-1.17,"y":-0.00096},{"r":200,"x":-1.41,"y":-0.0012},{"r":200,"x":-1.5,"y":-0.00144},
{"r":250,"x":-1.5,"y":-0.0014},{"r":250,"x":-1.41,"y":-0.0007},{"r":250,"x":-1.23,"y":-0.0003},{"r":250,"x":-0.93,"y":-0.00004},{"r":250,"x":-0.51,"y":0.0002},{"r":250,"x":0.0,"y":0.00028},{"r":250,"x":0.49,"y":0.00036},{"r":250,"x":0.85,"y":0.00056},{"r":250,"x":1.2,"y":0.0008},{"r":250,"x":1.5,"y":0.00133},{"r":250,"x":1.37,"y":0.00092},{"r":250,"x":1.08,"y":0.00056},{"r":250,"x":0.73,"y":0.00024},{"r":250,"x":0.37,"y":0.0},{"r":250,"x":0.0,"y":-0.0002},{"r":250,"x":-0.28,"y":-0.00032},{"r":250,"x":-0.37,"y":-0.00056},{"r":250,"x":-0.51,"y":-0.0004},{"r":250,"x":-0.81,"y":-0.00064},{"r":250,"x":-1.17,"y":-0.00096},{"r":250,"x":-1.41,"y":-0.0012},{"r":250,"x":-1.5,"y":-0.00144}
]
},
"title":{"text":"ν(mV/s)","orient":"top","anchor":"end","frame":"bounds","offset":-130,"fontSize":28},
"resolve":{"scale":{"color":"shared"}},
"vconcat":[{
 "title":{"text":"I (A)","orient":"left","anchor":"middle","frame":"bounds","fontSize":34,"offset":35,"dx":70},
 "resolve":{"scale":{"color":"shared"}},
 "hconcat":[{
  "title":{"text":"E Vs Ag/AgCl (V)","orient":"bottom","anchor":"middle","frame":"bounds","fontSize":34,"offset":35,"dx":5},
  "spacing":36,
  "resolve":{"scale":{"color":"shared"}},
  "vconcat":[
   {
    "title":{"text":"Dark","fontSize":34,"offset":-6,"dx":-5},
    "spacing":0,
    "resolve":{"scale":{"x":"independent","y":"independent","color":"shared"}},
    "hconcat":[
     {"data":{"name":"D0"},"width":196,"height":145,"title":{"text":"T0","dx":22,"offset":-40},
      "mark":{"type":"line","strokeWidth":2.6,"clip":true},
      "encoding":{
       "x":{"field":"x","type":"quantitative","scale":{"domain":[-1.766,1.713],"nice":false,"zero":false},"axis":{"title":null,"values":[-1.5,-0.75,0,0.75,1.5],"labelExpr":"abs(datum.value)==0.75?'':replace(format(datum.value,'.1f'),'\u2212','-')"}},
       "y":{"field":"y","type":"quantitative","scale":{"domain":[-0.0256,0.0359],"nice":false,"zero":false},"axis":{"title":null,"values":[-0.02,-0.01,0,0.01,0.02,0.03],"format":".2f","labelExpr":"replace(datum.label,'\u2212','-')"}},
       "color":{"field":"r","type":"ordinal","scale":{"domain":[25,50,100,150,200,250],"range":["#1b22c6","#5a6fe0","#c2c6f0","#f4c6c6","#ef8787","#e41a1c"]},"legend":{"title":null}},
       "order":{"value":null}}},
     {"data":{"name":"D5"},"width":188,"height":145,"title":{"text":"T5","dx":8,"offset":-37},
      "mark":{"type":"line","strokeWidth":2.6,"clip":true},
      "encoding":{
       "x":{"field":"x","type":"quantitative","scale":{"domain":[-1.767,1.577],"nice":false,"zero":false},"axis":{"title":null,"values":[-1.5,-0.75,0,0.75,1.5],"labelExpr":"abs(datum.value)==0.75?'':replace(format(datum.value,'.1f'),'\u2212','-')"}},
       "y":{"field":"y","type":"quantitative","scale":{"domain":[-0.00555,0.00343],"nice":false,"zero":false},"axis":{"title":null,"minExtent":64,"values":[-0.005,-0.004,-0.003,-0.002,-0.001,0,0.001,0.002,0.003],"format":".3f","labelExpr":"replace(datum.label,'\u2212','-')"}},
       "color":{"field":"r","type":"ordinal","scale":{"domain":[25,50,100,150,200,250],"range":["#1b22c6","#5a6fe0","#c2c6f0","#f4c6c6","#ef8787","#e41a1c"]},"legend":{"title":null}},
       "order":{"value":null}}},
     {"data":{"name":"D10"},"width":194,"height":145,"title":{"text":"T10","dx":5,"offset":-46},
      "mark":{"type":"line","strokeWidth":2.6,"clip":true},
      "encoding":{
       "x":{"field":"x","type":"quantitative","scale":{"domain":[-1.762,1.7],"nice":false,"zero":false},"axis":{"title":null,"values":[-1.5,-0.75,0,0.75,1.5],"labelExpr":"abs(datum.value)==0.75?'':replace(format(datum.value,'.1f'),'\u2212','-')"}},
       "y":{"field":"y","type":"quantitative","scale":{"domain":[-0.003,0.003],"nice":false,"zero":false},"axis":{"title":null,"minExtent":73,"values":[-0.003,-0.002,-0.001,0,0.001,0.002,0.003],"format":".3f","labelExpr":"replace(datum.label,'\u2212','-')"}},
       "color":{"field":"r","type":"ordinal","scale":{"domain":[25,50,100,150,200,250],"range":["#1b22c6","#5a6fe0","#c2c6f0","#f4c6c6","#ef8787","#e41a1c"]},"legend":{"title":null}},
       "order":{"value":null}}},
     {"data":{"name":"D15"},"width":196,"height":145,"title":{"text":"T15","dx":3,"offset":-34},
      "mark":{"type":"line","strokeWidth":2.6,"clip":true},
      "encoding":{
       "x":{"field":"x","type":"quantitative","scale":{"domain":[-1.749,1.73],"nice":false,"zero":false},"axis":{"title":null,"values":[-1.5,-0.75,0,0.75,1.5],"labelExpr":"abs(datum.value)==0.75?'':replace(format(datum.value,'.1f'),'\u2212','-')"}},
       "y":{"field":"y","type":"quantitative","scale":{"domain":[-0.00346,0.00149],"nice":false,"zero":false},"axis":{"title":null,"minExtent":86,"values":[-0.003,-0.002,-0.001,0,0.001],"format":".3f","labelExpr":"replace(datum.label,'\u2212','-')"}},
       "color":{"field":"r","type":"ordinal","scale":{"domain":[25,50,100,150,200,250],"range":["#1b22c6","#5a6fe0","#c2c6f0","#f4c6c6","#ef8787","#e41a1c"]},"legend":{"title":null}},
       "order":{"value":null}}}
    ]
   },
   {
    "title":{"text":"Light","fontSize":34,"offset":5,"dx":-6},
    "spacing":0,
    "resolve":{"scale":{"x":"independent","y":"independent","color":"shared"}},
    "hconcat":[
     {"data":{"name":"L0"},"width":197,"height":145,"title":{"text":"T0","dx":11,"offset":-42},
      "mark":{"type":"line","strokeWidth":2.6,"clip":true},
      "encoding":{
       "x":{"field":"x","type":"quantitative","scale":{"domain":[-1.748,1.74],"nice":false,"zero":false},"axis":{"title":null,"values":[-1.5,-0.75,0,0.75,1.5],"labelExpr":"abs(datum.value)==0.75?'':replace(format(datum.value,'.1f'),'\u2212','-')"}},
       "y":{"field":"y","type":"quantitative","scale":{"domain":[-0.0494,0.0499],"nice":false,"zero":false},"axis":{"title":null,"values":[-0.04,-0.02,0,0.02,0.04],"format":".2f","labelExpr":"replace(datum.label,'\u2212','-')"}},
       "color":{"field":"r","type":"ordinal","scale":{"domain":[25,50,100,150,200,250],"range":["#1b22c6","#5a6fe0","#c2c6f0","#f4c6c6","#ef8787","#e41a1c"]},"legend":{"title":null}},
       "order":{"value":null}}},
     {"data":{"name":"L5"},"width":191,"height":145,"title":{"text":"T5","dx":8,"offset":-35},
      "mark":{"type":"line","strokeWidth":2.6,"clip":true},
      "encoding":{
       "x":{"field":"x","type":"quantitative","scale":{"domain":[-1.77,1.62],"nice":false,"zero":false},"axis":{"title":null,"values":[-1.5,-0.75,0,0.75,1.5],"labelExpr":"abs(datum.value)==0.75?'':replace(format(datum.value,'.1f'),'\u2212','-')"}},
       "y":{"field":"y","type":"quantitative","scale":{"domain":[-0.00606,0.00682],"nice":false,"zero":false},"axis":{"title":null,"minExtent":62,"values":[-0.006,-0.004,-0.002,0,0.002,0.004,0.006],"format":".3f","labelExpr":"replace(datum.label,'\u2212','-')"}},
       "color":{"field":"r","type":"ordinal","scale":{"domain":[25,50,100,150,200,250],"range":["#1b22c6","#5a6fe0","#c2c6f0","#f4c6c6","#ef8787","#e41a1c"]},"legend":{"title":null}},
       "order":{"value":null}}},
     {"data":{"name":"L10"},"width":201,"height":145,"title":{"text":"T10","dx":11,"offset":-35},
      "mark":{"type":"line","strokeWidth":2.6,"clip":true},
      "encoding":{
       "x":{"field":"x","type":"quantitative","scale":{"domain":[-1.76,1.8],"nice":false,"zero":false},"axis":{"title":null,"values":[-1.5,-0.75,0,0.75,1.5],"labelExpr":"abs(datum.value)==0.75?'':replace(format(datum.value,'.1f'),'\u2212','-')"}},
       "y":{"field":"y","type":"quantitative","scale":{"domain":[-0.00396,0.00449],"nice":false,"zero":false},"axis":{"title":null,"minExtent":73,"values":[-0.004,-0.002,0,0.002,0.004],"format":".3f","labelExpr":"replace(datum.label,'\u2212','-')"}},
       "color":{"field":"r","type":"ordinal","scale":{"domain":[25,50,100,150,200,250],"range":["#1b22c6","#5a6fe0","#c2c6f0","#f4c6c6","#ef8787","#e41a1c"]},"legend":{"title":null}},
       "order":{"value":null}}},
     {"data":{"name":"L15"},"width":197,"height":145,"title":{"text":"T15","dx":12,"offset":-37},
      "mark":{"type":"line","strokeWidth":2.6,"clip":true},
      "encoding":{
       "x":{"field":"x","type":"quantitative","scale":{"domain":[-1.76,1.74],"nice":false,"zero":false},"axis":{"title":null,"values":[-1.5,-0.75,0,0.75,1.5],"labelExpr":"abs(datum.value)==0.75?'':replace(format(datum.value,'.1f'),'\u2212','-')"}},
       "y":{"field":"y","type":"quantitative","scale":{"domain":[-0.00175,0.00173],"nice":false,"zero":false},"axis":{"title":null,"minExtent":88,"values":[-0.0015,-0.001,-0.0005,0,0.0005,0.001,0.0015],"format":".4f","labelExpr":"replace(datum.label,'\u2212','-')"}},
       "color":{"field":"r","type":"ordinal","scale":{"domain":[25,50,100,150,200,250],"range":["#1b22c6","#5a6fe0","#c2c6f0","#f4c6c6","#ef8787","#e41a1c"]},"legend":{"title":null}},
       "order":{"value":null}}}
    ]
   }
  ]
 }]
}],
"config":{
 "font":"Liberation Sans",
 "view":{"stroke":"#7a7a7a","strokeWidth":1.5},
 "axis":{"domain":false,"grid":false,"ticks":true,"tickColor":"#666","tickSize":4,"labelFontSize":19,"labelColor":"#111","labelPadding":2,"labelOverlap":false,"labelFlush":false,"labelBound":false},
 "title":{"fontSize":31,"fontWeight":"normal","anchor":"start","frame":"group","baseline":"alphabetic","color":"#000"},
 "legend":{"orient":"none","legendX":1021,"legendY":104,"strokeColor":"#888","padding":3,"symbolType":"M-1,0H3","symbolStrokeWidth":3,"symbolSize":529,"labelFontSize":20,"labelColor":"#111","rowPadding":3,"labelOffset":28}
}
}
